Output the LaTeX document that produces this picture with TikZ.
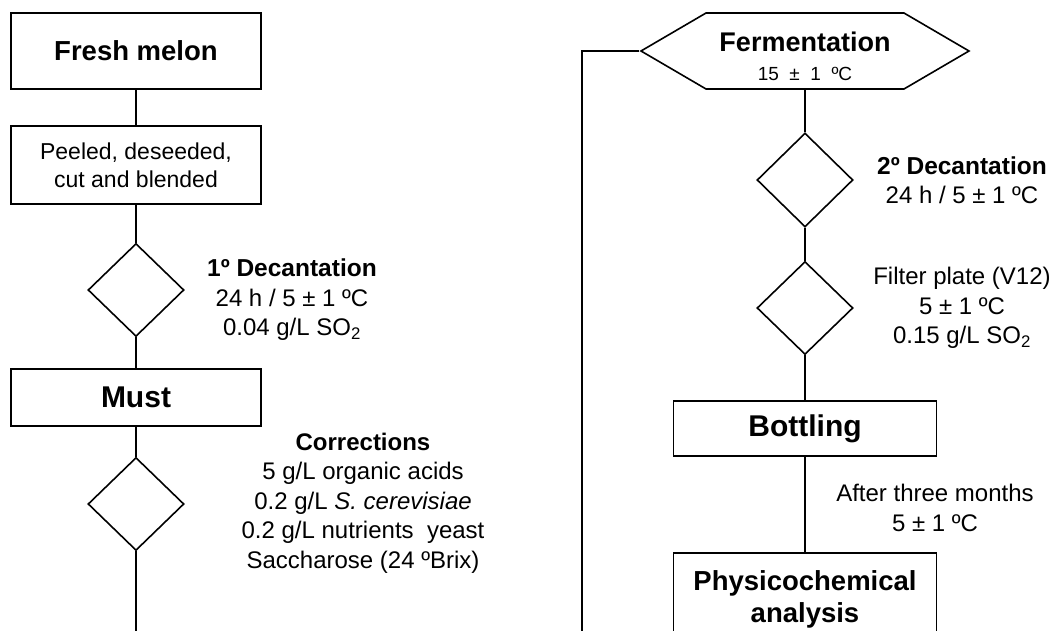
\documentclass[tikz,border=0pt]{standalone}
\usepackage{fontspec}
\setmainfont{Liberation Sans}
\usetikzlibrary{shapes.geometric,shapes.symbols}

\begin{document}
\begin{tikzpicture}[x=1pt,y=-1pt,line width=1.6pt,
  box/.style={rectangle,draw,align=center,inner sep=0pt,minimum width=250pt},
  dec/.style={diamond,draw,inner sep=0pt,minimum width=96pt,minimum height=93pt},
  note/.style={align=center,font=\fontsize{24}{29.5}\selectfont},
  big/.style={font=\bfseries\fontsize{27.5}{32}\selectfont}]
\useasboundingbox (0,0) rectangle (1055,631);

% left column
\node [box,big,minimum height=76pt] (fresh) at (136,51) {Fresh\ melon};
\node [box,minimum height=78pt,font=\fontsize{23}{28}\selectfont] (peeled) at (136,165) {Peeled, deseeded,\\cut and blended};
\node [dec] (dec1) at (136,290) {};
\node [box,minimum height=57pt,font=\bfseries\fontsize{30}{32}\selectfont] (must) at (136,397.5) {Must};
\node [dec] (dec2) at (136,504) {};
\coordinate (endl) at (136,640);

\node [note] (dec1txt) at (292,300) {{\bfseries\fontsize{24.5}{29.5}\selectfont 1º Decantation}\\24 h / 5 ± 1 ºC\\0.04 g/L SO\textsubscript{2}};
\node [note] (corrtxt) at (363,503) {{\bfseries Corrections}\\5 g/L organic acids\\0.2 g/L \textit{S. cerevisiae}\\0.2 g/L nutrients \ yeast\\Saccharose (24 ºBrix)};

% right column
\node [signal,draw,signal to=east and west,signal pointer angle=60.6,inner sep=0pt,
  minimum width=328pt,minimum height=76pt] (ferm) at (805,51) {};
\node [align=center,font=\fontsize{19}{29}\selectfont] (fermtxt) at (805,56)
  {{\bfseries\fontsize{27}{29}\selectfont Fermentation}\\15 \ ± \ 1 \ ºC};
\node [dec,minimum height=94pt] (dec3) at (805,180) {};
\node [dec] (dec4) at (805,308) {};
\node [box,minimum width=263pt,minimum height=55pt,font=\bfseries\fontsize{30}{32}\selectfont] (bott) at (805,428.5) {Bottling};
\node [box,big,minimum width=263pt,minimum height=92pt] (phys) at (805,599) {Physicochemical\\analysis};
\coordinate (endr) at (582,640);

\node [note] (dec3txt) at (962,180) {{\bfseries\fontsize{24.5}{29.5}\selectfont 2º Decantation}\\24 h / 5 ± 1 ºC};
\node [note] (filttxt) at (962,308) {Filter plate (V12)\\5 ± 1 ºC\\0.15 g/L SO\textsubscript{2}};
\node [note] (agetxt) at (935,508) {After three months\\5 ± 1 ºC};

% connectors
\draw (fresh) -- (peeled);
\draw (peeled) -- (dec1);
\draw (dec1) -- (must);
\draw (must) -- (dec2);
\draw (dec2) -- (endl);
\draw (ferm.west) -| (endr);
\draw (ferm) -- (dec3);
\draw (dec3) -- (dec4);
\draw (dec4) -- (bott);
\draw (bott) -- (phys);
\end{tikzpicture}
\end{document}
